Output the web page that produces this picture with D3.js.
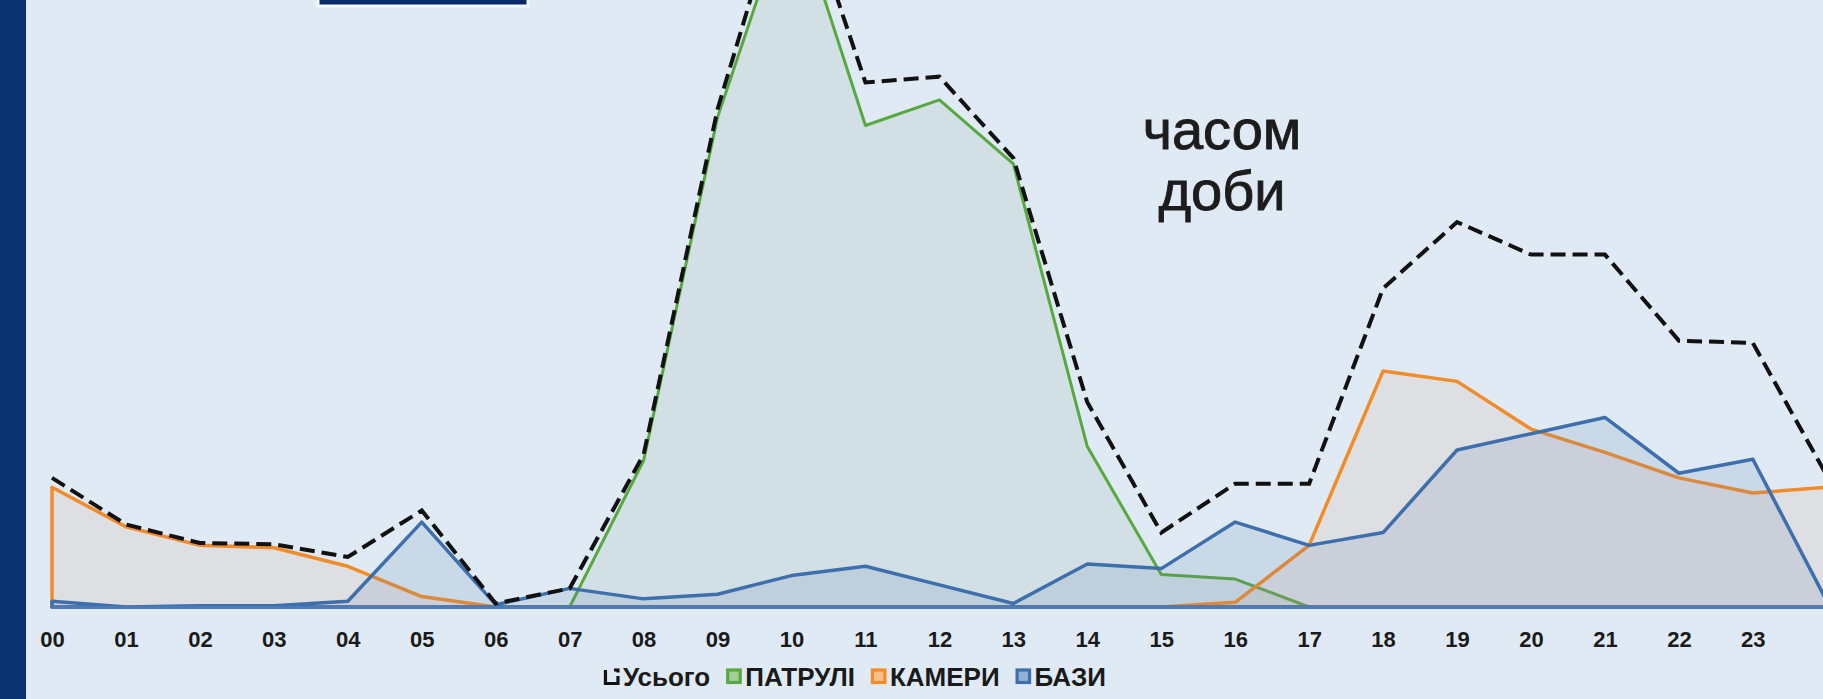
<!DOCTYPE html>
<html>
<head>
<meta charset="utf-8">
<script src="https://cdn.jsdelivr.net/npm/d3@7/dist/d3.min.js"></script>
<style>
  body { margin: 0; background: #dfeaf4; overflow: hidden; }
  svg { display: block; }
  text { font-family: "Liberation Sans", Arial, sans-serif; }
</style>
</head>
<body>
<svg id="chart" width="1823" height="699"></svg>
<script>
// hours of the day, the 25th point is the next midnight (cut by the right edge)
var hourLabels = ["00", "01", "02", "03", "04", "05", "06", "07", "08", "09", "10", "11",
  "12", "13", "14", "15", "16", "17", "18", "19", "20", "21", "22", "23"];

var total   = [22.2, 14.2, 11.0, 10.8, 8.6, 16.6, 0.6, 3.2, 26.2, 85.6, 128, 90.2,
  91.2, 77.2, 35.2, 12.8, 21.2, 21.2, 54.8, 66.2, 60.6, 60.6, 45.8, 45.4, 22.6];
var patrols = [0, 0, 0, 0, 0, 0, 0, 0, 25.2, 84.2, 122, 82.8,
  87.2, 76.2, 27.6, 5.6, 4.8, 0, 0, 0, 0, 0, 0, 0, 0];
var cameras = [20.6, 13.8, 10.6, 10.2, 7.0, 1.8, 0, 0, 0, 0, 0, 0,
  0, 0, 0, 0, 0.8, 10.6, 40.6, 38.8, 30.6, 26.6, 22.2, 19.6, 20.6];
var bases   = [1.0, 0, 0.2, 0.2, 1.0, 14.6, 0.4, 3.2, 1.4, 2.2, 5.4, 7.0,
  3.8, 0.6, 7.4, 6.6, 14.6, 10.6, 12.8, 27.0, 29.8, 32.6, 23.0, 25.4, 1.0];

var seriesNames = ["Усього", "ПАТРУЛІ", "КАМЕРИ", "БАЗИ"];
var titleLines = ["часом", "доби"];

var colors = { patrols: "#58a840", cameras: "#f28c28", bases: "#3d6fad", total: "#111111" };

var svg = d3.select("#chart");

// side bar and the cut box at the top
svg.append("rect").attr("x", 0).attr("y", 0).attr("width", 26).attr("height", 699)
  .attr("fill", "#0a3170");
svg.append("rect").attr("x", 318).attr("y", -20).attr("width", 210).attr("height", 26)
  .attr("fill", "#0b2a6a").attr("stroke", "#f3f6fa").attr("stroke-width", 3);

var x = d3.scaleLinear().domain([0, 24]).range([52, 1826.8]);
var y = d3.scaleLinear().domain([0, 100]).range([607, 25.5]);

var area = d3.area()
  .x((d, i) => x(i))
  .y0(y(0))
  .y1((d) => y(d));

var line = d3.line()
  .x((d, i) => x(i))
  .y((d) => y(d));

var areas = [
  { values: patrols, color: colors.patrols, fill: "#8fa89a", width: 3 },
  { values: cameras, color: colors.cameras, fill: "#e0a080", width: 3.5 },
  { values: bases, color: colors.bases, fill: "#5a78a8", width: 3.5 }
];

svg.selectAll("path.area")
  .data(areas)
  .enter()
  .append("path")
  .attr("class", "area")
  .attr("d", (s) => area(s.values))
  .attr("fill", (s) => s.fill)
  .attr("fill-opacity", 0.15)
  .attr("stroke", (s) => s.color)
  .attr("stroke-width", (s) => s.width)
  .attr("stroke-linejoin", "round");

// x axis, blue base line
var xAxis = d3.axisBottom(x)
  .tickValues(d3.range(24))
  .tickFormat((i) => hourLabels[i])
  .tickSize(0)
  .tickPadding(24);

var gx = svg.append("g").attr("transform", "translate(0," + y(0) + ")").call(xAxis);
gx.select(".domain").attr("stroke", "#4d7bb8").attr("stroke-width", 3);
gx.selectAll("text")
  .attr("font-family", "'Liberation Sans', Arial, sans-serif")
  .attr("font-size", 22)
  .attr("font-weight", "bold")
  .attr("fill", "#1a1a1a");

// dashed total
svg.append("path")
  .attr("d", line(total))
  .attr("fill", "none")
  .attr("stroke", colors.total)
  .attr("stroke-width", 4)
  .attr("stroke-dasharray", "15 7");

// title text inside the plot
svg.append("text")
  .attr("x", 1222)
  .attr("y", 149)
  .attr("text-anchor", "middle")
  .attr("font-size", 56)
  .attr("fill", "#1c1c1c")
  .attr("stroke", "#1c1c1c")
  .attr("stroke-width", 0.9)
  .selectAll("tspan")
  .data(titleLines)
  .enter()
  .append("tspan")
  .attr("x", 1222)
  .attr("dy", (d, i) => (i === 0 ? 0 : 61))
  .text((d) => d);

// legend
var legendColors = [colors.total, colors.patrols, colors.cameras, colors.bases];
var legend = svg.append("g");
var lx = 0;
seriesNames.forEach((name, i) => {
  var item = legend.append("g").attr("transform", "translate(" + lx + ",0)");
  if (i === 0) {
    item.append("path")
      .attr("d", "M1.5,-16 V-2.5 H14 V-10 M10,-16 H14 V-13.5")
      .attr("fill", "none")
      .attr("stroke", legendColors[i])
      .attr("stroke-width", 3.2);
  } else {
    item.append("rect")
      .attr("x", 1.5).attr("y", -16).attr("width", 12.5).attr("height", 12.5)
      .attr("fill", d3.interpolateRgb(legendColors[i], "#ffffff")(0.45))
      .attr("stroke", legendColors[i])
      .attr("stroke-width", 3.2);
  }
  var t = item.append("text")
    .attr("x", 19)
    .attr("y", 0)
    .attr("font-size", 26)
    .attr("font-weight", "bold")
    .attr("fill", "#1a1a1a")
    .text(name);
  lx += 19 + t.node().getComputedTextLength() + 16;
});
legend.attr("transform", "translate(" + (855 - (lx - 16) / 2) + ",686)");
</script>
</body>
</html>
